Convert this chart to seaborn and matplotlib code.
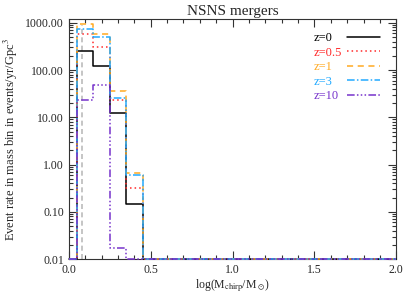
import numpy as np
import pandas as pd
import seaborn as sns
import matplotlib
matplotlib.use("Agg")
from matplotlib import pyplot as plt
from matplotlib.ticker import FixedLocator, MultipleLocator, LogLocator, NullFormatter, FormatStrFormatter

# bin edges in log(Mchirp/Msun); the outer bins hold nothing
edges = [0.0, 0.05, 0.15, 0.25, 0.35, 0.45, 2.0]
floor = 0.01  # zero bins are drawn on the bottom axis, like IDL clipping

labels = ["z=0", "z=0.5", "z=1", "z=3", "z=10"]
rates = {
    "z=0":   [0, 248, 124, 12.2, 0.145, 0],
    "z=0.5": [0, 573, 306, 23.6, 0.32, 0],
    "z=1":   [0, 925, 565, 36, 0.66, 0],
    "z=3":   [0, 722, 500, 25, 0.59, 0],
    "z=10":  [0, 23.8, 48, 0.017, 0, 0],
}
colors = ["black", "#ff2a2a", "#ffaa22", "#22aaff", "#7733cc"]
dashes = [(None, None), (1, 2), (4, 3), (5, 1.5, 1, 1.5), (5, 1.5, 1, 1.5, 1, 1.5, 1, 1.5)]
ref_x = [0.08]  # light grey dashed marker line

ytick_vals = [0.01, 0.1, 1, 10, 100, 1000]
ytick_labels = ["0.01", "0.10", "1.00", "10.00", "100.00", "1000.00"]

sns.set_style("ticks")
plt.rcParams["font.family"] = ["Liberation Serif", "DejaVu Serif"]
plt.rcParams["mathtext.fontset"] = "stix"

fig = plt.figure(figsize=(4.15, 3.02), dpi=100)
ax = fig.add_axes([0.166, 0.142, 0.789, 0.795])

for xv in ref_x:
    ax.axvline(xv, ymax=0.975, color="#bbbbbb", ls=(0, (3, 2)), lw=1.2, zorder=1)

for lab, col, ds in zip(labels, colors, dashes):
    vals = [max(v, floor) for v in rates[lab]]
    df = pd.DataFrame({"x": edges, "y": vals + [vals[-1]]})
    kw = {} if ds[0] is None else {"dashes": ds}
    sns.lineplot(data=df, x="x", y="y", ax=ax, color=col, lw=1.1,
                 drawstyle="steps-post", label=lab, zorder=3, **kw)
    ln = ax.lines[-1]
    ln.set_clip_on(False)
    if ds[0] is None:
        ln.set_linestyle("-")

ax.set_yscale("log")
ax.set_xlim(0, 2.0)
ax.set_ylim(floor, 1200)
ax.yaxis.set_major_locator(FixedLocator(ytick_vals))
ax.set_yticklabels(ytick_labels)
ax.yaxis.set_minor_locator(LogLocator(base=10, subs=np.arange(2, 10)))
ax.yaxis.set_minor_formatter(NullFormatter())
ax.xaxis.set_major_locator(MultipleLocator(0.5))
ax.xaxis.set_minor_locator(MultipleLocator(0.1))
ax.xaxis.set_major_formatter(FormatStrFormatter("%.1f"))

ax.tick_params(which="both", direction="in", top=True, right=True, labelsize=8.5, width=0.8, color="#333333")
ax.tick_params(which="major", length=6)
ax.tick_params(which="minor", length=3)
for s in ax.spines.values():
    s.set_linewidth(0.8)
    s.set_color("#333333")

ax.set_title("NSNS mergers", fontsize=11, pad=3)
ax.set_xlabel(r"log(M$_\mathrm{chirp}$/M$_\odot$)", fontsize=8.5, labelpad=1)
ax.set_ylabel(r"Event rate in mass bin in events/yr/Gpc$^3$", fontsize=9, labelpad=4)

# IDL-style legend: left-aligned coloured labels, line samples to the right
handles, _ = ax.get_legend_handles_labels()
if ax.get_legend():
    ax.get_legend().remove()
common = dict(frameon=False, fontsize=9, labelspacing=0.2, borderpad=0, borderaxespad=0)
leg_text = ax.legend(handles, labels, loc="upper left", bbox_to_anchor=(0.748, 0.945),
                     handlelength=0, handletextpad=0, labelcolor=colors, **common)
for h in leg_text.legend_handles:
    h.set_visible(False)
ax.add_artist(leg_text)
leg_lines = ax.legend(handles, [" "] * len(labels), loc="upper left", bbox_to_anchor=(0.85, 0.945),
                      handlelength=2.6, handletextpad=0, **common)

fig.savefig("out.png", dpi=100)
